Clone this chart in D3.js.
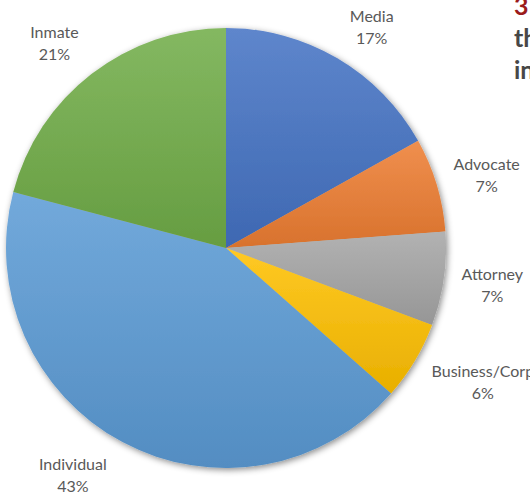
<!DOCTYPE html>
<html>
<head>
<meta charset="utf-8">
<script src="https://cdn.jsdelivr.net/npm/d3@7"></script>
<style>
  html, body { margin: 0; padding: 0; background: #fff; overflow: hidden; }
  svg { display: block; }
</style>
</head>
<body>
<div id="chart"></div>
<script>
// slice data, clockwise from 12 o'clock
const categories = ["Media", "Advocate", "Attorney", "Business/Corp", "Individual", "Inmate"];
const shares = [16.9, 6.9, 6.9, 5.8, 42.6, 20.9];
const colors = ["#4472C4", "#ED7D31", "#A5A5A5", "#FFC000", "#5B9BD5", "#70AD47"];

// label nudges from the plain outer-arc position (excel shifts some labels to fit)
const labelNudge = [[10, 11], [4, 5], [1, 0], [27, -3], [-27, -8], [-8, 8]];

// clipped slide title at the right edge
const titleLines = ["3", "th", "in"];
const titleColors = ["#9B1B1B", "#474747", "#474747"];

const W = 530, H = 495;
const cx = 226, cy = 248, R = 220;

const svg = d3.select("#chart").append("svg")
  .attr("width", W)
  .attr("height", H);

const defs = svg.append("defs");

const shadow = defs.append("filter")
  .attr("id", "shadow")
  .attr("x", "-10%").attr("y", "-10%")
  .attr("width", "120%").attr("height", "120%");
shadow.append("feDropShadow")
  .attr("dx", 1.5).attr("dy", 2)
  .attr("stdDeviation", 3)
  .attr("flood-color", "#000")
  .attr("flood-opacity", 0.45);

colors.forEach(function(c, i) {
  const g = defs.append("linearGradient")
    .attr("id", "grad" + i)
    .attr("x1", 0).attr("y1", 0)
    .attr("x2", 0).attr("y2", 1);
  g.append("stop").attr("offset", "0%").attr("stop-color", d3.interpolateRgb(c, "#fff")(0.14));
  g.append("stop").attr("offset", "100%").attr("stop-color", d3.interpolateRgb(c, "#000")(0.09));
});

const data = categories.map(function(name, i) {
  return {name: name, value: shares[i], i: i};
});

const pie = d3.pie()
  .sort(null)
  .value(function(d) { return d.value; });

const arcs = pie(data);
const total = d3.sum(shares);

const arc = d3.arc()
  .innerRadius(0)
  .outerRadius(R);

const labelArc = d3.arc()
  .innerRadius(268)
  .outerRadius(268);

const g = svg.append("g")
  .attr("transform", `translate(${cx},${cy})`);

g.append("g")
  .attr("filter", "url(#shadow)")
  .selectAll("path")
  .data(arcs)
  .enter().append("path")
    .attr("d", arc)
    .attr("fill", function(d) { return "url(#grad" + d.data.i + ")"; });

const fmt = d3.format(".0%");

const labels = g.selectAll(".lbl")
  .data(arcs)
  .enter().append("text")
    .attr("class", "lbl")
    .attr("text-anchor", "middle")
    .attr("fill", "#595959")
    .style("font-family", "Lato, 'Open Sans', sans-serif")
    .style("font-size", "16px")
    .attr("transform", function(d) {
      const p = labelArc.centroid(d);
      const n = labelNudge[d.data.i];
      return `translate(${p[0] + n[0]},${p[1] + n[1]})`;
    });

labels.append("tspan")
  .attr("x", 0)
  .attr("y", -6)
  .text(function(d) { return d.data.name; });

labels.append("tspan")
  .attr("x", 0)
  .attr("y", 16)
  .text(function(d) { return fmt(d.data.value / total); });

svg.append("g")
  .selectAll("text")
  .data(titleLines)
  .enter().append("text")
    .attr("x", 514)
    .attr("y", function(d, i) { return 15 + i * 32; })
    .attr("fill", function(d, i) { return titleColors[i]; })
    .style("font-family", "Lato, 'Open Sans', sans-serif")
    .style("font-weight", "bold")
    .style("font-size", "25px")
    .text(function(d) { return d; });
</script>
</body>
</html>
